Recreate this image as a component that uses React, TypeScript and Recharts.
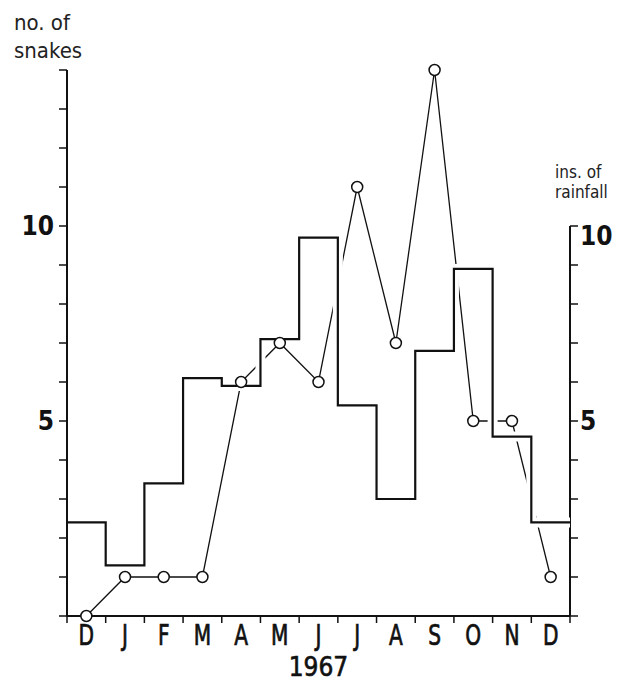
import { ComposedChart, Line, XAxis, YAxis, ReferenceLine } from 'recharts';

const months = ['D', 'J', 'F', 'M', 'A', 'M', 'J', 'J', 'A', 'S', 'O', 'N', 'D'];
const snakes = [0, 1, 1, 1, 6, 7, 6, 11, 7, 14, 5, 5, 1];
const rainfall = [2.4, 1.3, 3.4, 6.1, 5.9, 7.1, 9.7, 5.4, 3.0, 6.8, 8.9, 4.6, 2.4];
const leftTicks = [0, 1, 2, 3, 4, 5, 6, 7, 8, 9, 10, 11, 12, 13, 14];
const rightTicks = [0, 1, 2, 3, 4, 5, 6, 7, 8, 9, 10];
const labelledTicks = [5, 10];

const INK = '#111';
const FONT = '"DejaVu Sans Condensed", "DejaVu Sans", sans-serif';

// snakes sit in the middle of each month, rainfall steps span the whole month
const snakeData = snakes.map((v, i) => ({ pos: i + 0.5, snakes: v }));
const rainData = [...rainfall, rainfall[rainfall.length - 1]].map((v, i) => ({ pos: i, rain: v }));
const edgeTicks = months.map((_, i) => i).concat(months.length);
const monthTicks = months.map((_, i) => i + 0.5);

function MonthTick({ x, y, payload }: any) {
  return (
    <g transform={`translate(${x},${y})`}>
      <text transform="scale(0.8,1)" y={13} textAnchor="middle" fontFamily={FONT} fontSize={28} fill={INK} stroke={INK} strokeWidth={0.7}>
        {months[Math.floor(payload.value)]}
      </text>
    </g>
  );
}

function LeftTick({ x, y, payload }: any) {
  if (!labelledTicks.includes(payload.value)) return <g />;
  return (
    <text x={x} y={y} dy={9} textAnchor="end" fontFamily={FONT} fontWeight="bold" fontSize={26} fill={INK}>
      {payload.value}
    </text>
  );
}

function RightTick({ x, y, payload }: any) {
  if (!labelledTicks.includes(payload.value)) return <g />;
  return (
    <text x={x} y={y} dy={payload.value === 10 ? 19 : 9} textAnchor="start" fontFamily={FONT} fontWeight="bold" fontSize={26} fill={INK}>
      {payload.value}
    </text>
  );
}

const titleStyle = { position: 'absolute' as const, fontFamily: FONT, fontSize: 22, lineHeight: '22px', color: '#222', whiteSpace: 'nowrap' as const };

export default function App() {
  return (
    <div style={{ position: 'absolute', left: 0, top: 0, width: 623, height: 682, background: '#fff' }}>
      <ComposedChart width={623} height={682} margin={{ top: 70, right: 8, bottom: 0, left: 20 }}>
        <XAxis
          xAxisId="e"
          type="number"
          dataKey="pos"
          domain={[0, 13]}
          allowDataOverflow
          ticks={edgeTicks}
          tickFormatter={() => ''}
          height={8}
          tickSize={7}
          axisLine={{ stroke: INK, strokeWidth: 2 }}
          tickLine={{ stroke: INK, strokeWidth: 1.5 }}
        />
        <XAxis
          xAxisId="m"
          type="number"
          dataKey="pos"
          domain={[0, 13]}
          allowDataOverflow
          ticks={monthTicks}
          tick={<MonthTick />}
          axisLine={false}
          tickLine={false}
          height={58}
          label={{ value: '1967', position: 'insideBottom', offset: 6, fontFamily: FONT, fontSize: 26, fill: INK, stroke: INK, strokeWidth: 0.6 }}
        />
        <YAxis
          yAxisId="l"
          domain={[0, 14]}
          ticks={leftTicks}
          width={47}
          tickSize={8}
          tickMargin={5}
          tick={<LeftTick />}
          axisLine={{ stroke: INK, strokeWidth: 2 }}
          tickLine={{ stroke: INK, strokeWidth: 1.5 }}
        />
        <YAxis
          yAxisId="r"
          orientation="right"
          domain={[0, 14]}
          ticks={rightTicks}
          width={45}
          tickSize={8}
          tick={<RightTick />}
          axisLine={false}
          tickLine={{ stroke: INK, strokeWidth: 1.5 }}
        />
        <ReferenceLine
          xAxisId="e"
          yAxisId="r"
          segment={[{ x: 13, y: 0 }, { x: 13, y: 10 }]}
          stroke={INK}
          strokeWidth={2}
        />
        <Line
          xAxisId="e"
          yAxisId="l"
          data={snakeData}
          dataKey="snakes"
          type="linear"
          stroke={INK}
          strokeWidth={1.3}
          dot={false}
          isAnimationActive={false}
        />
        {/* white halo so the snake line breaks where it crosses the rainfall steps */}
        <Line
          xAxisId="e"
          yAxisId="r"
          data={rainData}
          dataKey="rain"
          type="stepAfter"
          stroke="#fff"
          strokeWidth={10}
          strokeLinecap="butt"
          dot={false}
          isAnimationActive={false}
        />
        <Line
          xAxisId="e"
          yAxisId="r"
          data={rainData}
          dataKey="rain"
          type="stepAfter"
          stroke={INK}
          strokeWidth={2.2}
          strokeLinecap="butt"
          dot={false}
          isAnimationActive={false}
        />
        <Line
          xAxisId="e"
          yAxisId="l"
          data={snakeData}
          dataKey="snakes"
          type="linear"
          stroke="none"
          dot={{ r: 5.5, fill: '#fff', stroke: INK, strokeWidth: 1.5 }}
          isAnimationActive={false}
        />
      </ComposedChart>
      <div style={{ ...titleStyle, left: 14, top: 12 }}>no. of</div>
      <div style={{ ...titleStyle, left: 14, top: 40 }}>snakes</div>
      <div style={{ ...titleStyle, left: 555, top: 162, fontSize: 17, lineHeight: '20px' }}>ins. of</div>
      <div style={{ ...titleStyle, left: 555, top: 182, fontSize: 17, lineHeight: '20px' }}>rainfall</div>
    </div>
  );
}
